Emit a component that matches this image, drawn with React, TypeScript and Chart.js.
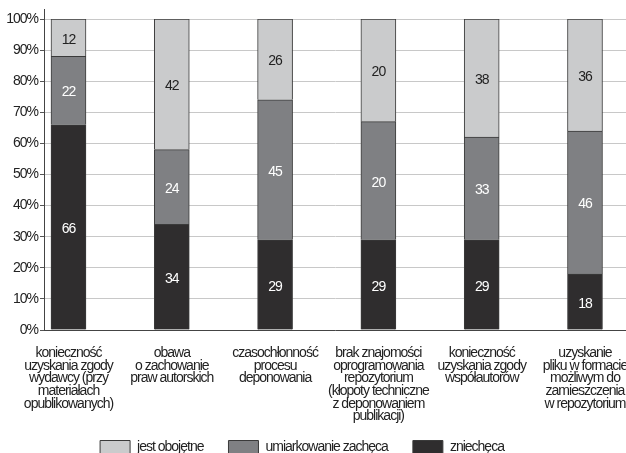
import React, { useEffect, useRef } from "react";
import { Chart, registerables } from "chart.js";

Chart.register(...registerables);

const categories: string[][] = [
  ["konieczność", "uzyskania zgody", "wydawcy (przy", "materiałach", "opublikowanych)"],
  ["obawa", "o zachowanie", "praw autorskich"],
  ["czasochłonność", "procesu", "deponowania"],
  ["brak znajomości", "oprogramowania", "repozytorium", "(kłopoty techniczne", "z deponowaniem", "publikacji)"],
  ["konieczność", "uzyskania zgody", "współautorów"],
  ["uzyskanie", "pliku w formacie", "możliwym do", "zamieszczenia", "w repozytorium"],
];

// bar segment heights (%)
const zniechecaValues = [66, 34, 29, 29, 29, 18];
const umiarkowanieValues = [22, 24, 45, 38, 33, 46];
const obojetneValues = [12, 42, 26, 33, 38, 36];

// printed labels on segments
const zniechecaLabels = ["66", "34", "29", "29", "29", "18"];
const umiarkowanieLabels = ["22", "24", "45", "20", "33", "46"];
const obojetneLabels = ["12", "42", "26", "20", "38", "36"];

const yTicks = [0, 10, 20, 30, 40, 50, 60, 70, 80, 90, 100];

const FONT = "'Liberation Sans Narrow', 'Arial Narrow', 'Liberation Sans', Arial, sans-serif";

export default function App() {
  const ref = useRef<HTMLCanvasElement | null>(null);

  useEffect(() => {
    if (!ref.current) return;
    const toPts = (arr: number[]) => arr.map((v, i) => ({ x: i, y: v }));
    const labelSets = [zniechecaLabels, umiarkowanieLabels, obojetneLabels];
    const labelColors = ["#ffffff", "#ffffff", "#222222"];

    const narrow = {
      id: "narrow",
      beforeInit(chart: any) {
        chart.ctx.letterSpacing = "-1px";
      },
      beforeLayout(chart: any) {
        chart.ctx.letterSpacing = "-1px";
      },
      afterLayout(chart: any) {
        // let the multi-line category labels extend below the axis box (no clipping)
        const x = chart.scales.x;
        x.bottom = chart.height;
        const lg = chart.legend;
        if (lg) {
          const h = lg.bottom - lg.top;
          lg.top = 415;
          lg.bottom = 415 + h;
          lg.left -= 11;
          lg.right -= 11;
        }
      },
      beforeDraw(chart: any) {
        chart.ctx.letterSpacing = "-1px";
      },
    };

    const segLabels = {
      id: "segLabels",
      afterDatasetsDraw(chart: any) {
        const ctx = chart.ctx;
        ctx.save();
        ctx.font = `14px ${FONT}`;
        ctx.textAlign = "center";
        ctx.textBaseline = "middle";
        chart.data.datasets.forEach((ds: any, di: number) => {
          const meta = chart.getDatasetMeta(di);
          meta.data.forEach((el: any, i: number) => {
            const p = el.getProps(["x", "y", "base"], true);
            ctx.fillStyle = labelColors[di];
            ctx.fillText(labelSets[di][i], p.x, (p.y + p.base) / 2 + 2);
          });
        });
        ctx.restore();
      },
    };

    const axisExt = {
      id: "axisExt",
      afterDraw(chart: any) {
        const ctx = chart.ctx;
        const a = chart.chartArea;
        ctx.save();
        ctx.strokeStyle = "#444";
        ctx.lineWidth = 1;
        ctx.beginPath();
        ctx.moveTo(Math.round(a.left) + 0.5, 9);
        ctx.lineTo(Math.round(a.left) + 0.5, a.top);
        ctx.stroke();
        ctx.restore();
      },
    };

    const chart = new Chart(ref.current, {
      type: "bar",
      data: {
        datasets: [
          {
            label: "zniechęca",
            data: toPts(zniechecaValues),
            backgroundColor: "#2f2d2e",
            borderColor: "#3a3a3a",
            borderWidth: 1,
            barThickness: 35,
          },
          {
            label: "umiarkowanie zachęca",
            data: toPts(umiarkowanieValues),
            backgroundColor: "#7f8083",
            borderColor: "#3a3a3a",
            borderWidth: 1,
            barThickness: 35,
          },
          {
            label: "jest obojętne",
            data: toPts(obojetneValues),
            backgroundColor: "#cacbcc",
            borderColor: "#3a3a3a",
            borderWidth: 1,
            barThickness: 35,
          },
        ],
      },
      options: {
        animation: false,
        responsive: true,
        maintainAspectRatio: false,
        layout: { padding: { top: 19, right: 0, left: 0, bottom: 0 } },
        plugins: {
          tooltip: { enabled: false },
          legend: {
            position: "bottom",
            reverse: true,
            labels: {
              boxWidth: 30,
              boxHeight: 13,
              padding: 25,
              color: "#222",
              font: { family: FONT, size: 14 },
            },
          },
        },
        scales: {
          x: {
            type: "linear",
            stacked: true,
            min: -0.237,
            max: 5.397,
            offset: false,
            grid: { display: false },
            border: { display: true, color: "#444", width: 1 },
            afterBuildTicks: (scale: any) => {
              scale.ticks = categories.map((_, i) => ({ value: i }));
            },
            afterFit: (scale: any) => {
              scale.height = 74;
              scale.paddingLeft = 0;
              scale.paddingRight = 0;
            },
            ticks: {
              autoSkip: false,
              maxRotation: 0,
              minRotation: 0,
              padding: 9,
              color: "#222",
              font: { family: FONT, size: 14, lineHeight: 0.9 },
              callback: (v: any) => categories[v as number] ?? "",
            },
          },
          y: {
            stacked: true,
            min: 0,
            max: 100,
            afterBuildTicks: (scale: any) => {
              scale.ticks = yTicks.map((v) => ({ value: v }));
            },
            afterFit: (scale: any) => {
              scale.width = 44;
            },
            grid: {
              color: "#c8c8c8",
              tickColor: "#555",
              tickLength: 4,
              lineWidth: 1,
            },
            border: { display: true, color: "#444", width: 1 },
            ticks: {
              padding: 2,
              color: "#222",
              font: { family: FONT, size: 14 },
              callback: (v: any) => `${v}%`,
            },
          },
        },
      },
      plugins: [narrow, segLabels, axisExt],
    } as any);
    return () => chart.destroy();
  }, []);

  return (
    <div style={{ position: "fixed", left: 0, top: 0, width: 626, height: 453, background: "#fff" }}>
      <canvas ref={ref} />
    </div>
  );
}
